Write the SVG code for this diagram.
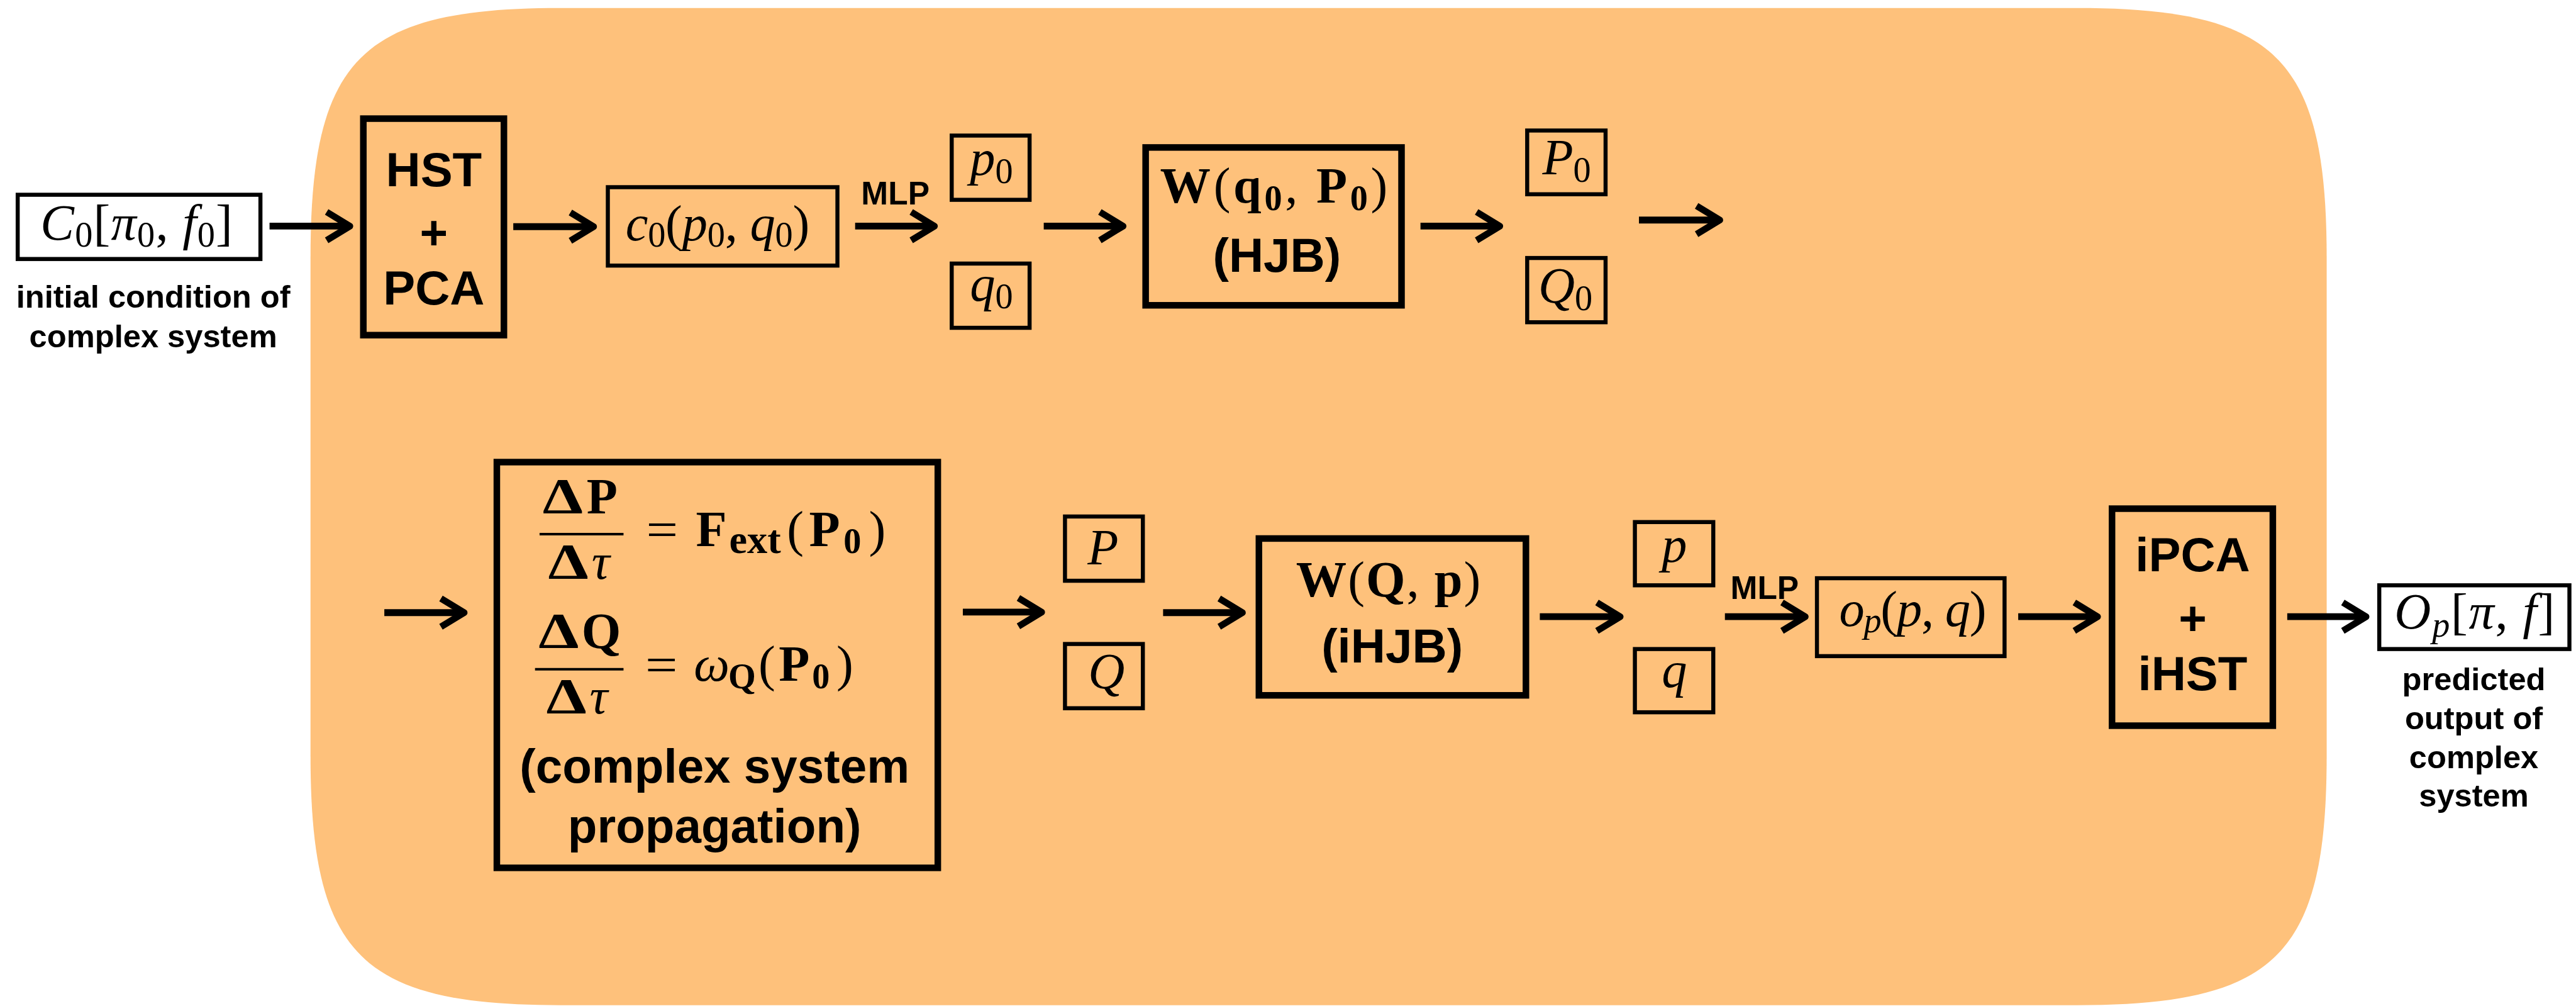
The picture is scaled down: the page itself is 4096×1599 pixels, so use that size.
<svg xmlns="http://www.w3.org/2000/svg" width="4096" height="1599" viewBox="0 0 4096 1599">
  <style>
    .box { fill: none; stroke: #000; stroke-width: 8; }
    .bbox { fill: none; stroke: #000; stroke-width: 13; }
    .sans { font-family: "Liberation Sans", Arial, Helvetica, sans-serif; font-weight: bold; fill: #000; }
    .big { font-size: 95px; }
    .small { font-size: 63px; }
    .mlp { font-size: 64px; }
    .m { font-family: "Liberation Serif", "DejaVu Serif", serif; font-size: 100px; fill: #000; }
    .i { font-style: italic; }
    .b { font-weight: bold; }
    .s { font-size: 70px; }
    .se { font-size: 80px; }
    .arrow { fill: none; stroke: #000; stroke-width: 13.5; marker-end: url(#head); }
    .bar { stroke: #000; stroke-width: 5; }
  </style>
  <defs>
    <marker id="head" markerUnits="userSpaceOnUse" orient="auto" overflow="visible" refX="0" refY="0" markerWidth="1" markerHeight="1">
      <path d="M-46,-28 L0,0 L-46,28" fill="none" stroke="#000" stroke-width="13" stroke-linejoin="round"/>
    </marker>
  </defs>

  <g transform="scale(0.80408)">
    <!-- shaded region holding the latent-space pipeline -->
    <path id="region" fill="#FEC17B" d="M614,511 C614,115 713,16 1109,16 L4106,16 C4502,16 4601,115 4601,511 L4601,1492 C4601,1888 4502,1987 4106,1987 L1109,1987 C713,1987 614,1888 614,1492 Z"/>

    <!-- input -->
    <g id="input">
      <rect class="box" x="35" y="385" width="480" height="127"/>
      <text class="m" x="80" y="474" textLength="380" lengthAdjust="spacing"><tspan class="i">C</tspan><tspan class="s" dy="13">0</tspan><tspan dy="-13">[</tspan><tspan class="i">π</tspan><tspan class="s" dy="13">0</tspan><tspan dy="-13">, </tspan><tspan class="i">f</tspan><tspan class="s" dy="13">0</tspan><tspan dy="-13">]</tspan></text>
      <text class="sans small" x="303" y="608" text-anchor="middle">initial condition of</text>
      <text class="sans small" x="303" y="686" text-anchor="middle">complex system</text>
    </g>

    <g id="hst-pca">
      <rect class="bbox" x="718.5" y="234.5" width="278" height="428"/>
      <text class="sans big" x="858" y="368" text-anchor="middle">HST</text>
      <text class="sans big" x="858" y="493" text-anchor="middle">+</text>
      <text class="sans big" x="858" y="602" text-anchor="middle">PCA</text>
    </g>

    <g id="c0">
      <rect class="box" x="1202" y="370" width="454" height="155"/>
      <text class="m" x="1237" y="475" textLength="364" lengthAdjust="spacing"><tspan class="i">c</tspan><tspan class="s" dy="12">0</tspan><tspan dy="-12">(</tspan><tspan class="i">p</tspan><tspan class="s" dy="12">0</tspan><tspan dy="-12">, </tspan><tspan class="i">q</tspan><tspan class="s" dy="12">0</tspan><tspan dy="-12">)</tspan></text>
    </g>

    <g id="mlp-1">
      <text class="sans mlp" x="1703" y="404">MLP</text>
    </g>

    <g id="p0">
      <rect class="box" x="1882" y="268" width="154" height="127"/>
      <text class="m" x="1918" y="346"><tspan class="i">p</tspan><tspan class="s" dy="16">0</tspan></text>
    </g>
    <g id="q0">
      <rect class="box" x="1882" y="521" width="154" height="127"/>
      <text class="m" x="1918" y="594"><tspan class="i">q</tspan><tspan class="s" dy="16">0</tspan></text>
    </g>

    <g id="hjb">
      <rect class="bbox" x="2265.5" y="291.5" width="506" height="312"/>
      <text class="m" x="2294" y="401" textLength="450" lengthAdjust="spacing"><tspan class="b">W</tspan>(<tspan class="b">q</tspan><tspan class="s b" dy="14">0</tspan><tspan dy="-14">, </tspan><tspan class="b">P</tspan><tspan class="s b" dy="14">0</tspan><tspan dy="-14">)</tspan></text>
      <text class="sans big" x="2525" y="537" text-anchor="middle">(HJB)</text>
    </g>

    <g id="P0">
      <rect class="box" x="3020" y="258" width="155" height="126"/>
      <text class="m" x="3050" y="345" textLength="96" lengthAdjust="spacing"><tspan class="i">P</tspan><tspan class="s" dy="15">0</tspan></text>
    </g>
    <g id="Q0">
      <rect class="box" x="3020" y="510" width="155" height="127"/>
      <text class="m" x="3042" y="598" textLength="107" lengthAdjust="spacing"><tspan class="i">Q</tspan><tspan class="s" dy="15">0</tspan></text>
    </g>

    <g id="propagation">
      <rect class="bbox" x="982.5" y="913.5" width="872" height="802"/>
      <!-- dP/dtau = F_ext(P_0) -->
      <text class="m b" x="1073" y="1015" textLength="80" lengthAdjust="spacingAndGlyphs">Δ</text>
      <text class="m b" x="1160" y="1015">P</text>
      <line class="bar" x1="1067" y1="1056" x2="1233" y2="1056"/>
      <text class="m b" x="1084" y="1144" textLength="80" lengthAdjust="spacingAndGlyphs">Δ</text>
      <text class="m i" x="1170" y="1144">τ</text>
      <text class="m" x="1278" y="1081" textLength="63" lengthAdjust="spacingAndGlyphs">=</text>
      <text class="m"><tspan class="b" x="1376" y="1079">F</tspan><tspan class="se b" x="1442" y="1093">ext</tspan><tspan x="1556" y="1079">(</tspan><tspan class="b" x="1600" y="1079">P</tspan><tspan class="s b" x="1668" y="1093">0</tspan><tspan x="1718" y="1079">)</tspan></text>
      <!-- dQ/dtau = omega_Q(P_0) -->
      <text class="m b" x="1065" y="1281" textLength="80" lengthAdjust="spacingAndGlyphs">Δ</text>
      <text class="m b" x="1150" y="1281">Q</text>
      <line class="bar" x1="1058" y1="1323" x2="1233" y2="1323"/>
      <text class="m b" x="1080" y="1410" textLength="80" lengthAdjust="spacingAndGlyphs">Δ</text>
      <text class="m i" x="1166" y="1410">τ</text>
      <text class="m" x="1276" y="1348" textLength="64" lengthAdjust="spacingAndGlyphs">=</text>
      <text class="m"><tspan class="i" x="1372" y="1346">ω</tspan><tspan class="s b" x="1440" y="1360">Q</tspan><tspan x="1500" y="1346">(</tspan><tspan class="b" x="1540" y="1346">P</tspan><tspan class="s b" x="1606" y="1360">0</tspan><tspan x="1654" y="1346">)</tspan></text>
      <text class="sans big" x="1413" y="1547" text-anchor="middle">(complex system</text>
      <text class="sans big" x="1413" y="1665" text-anchor="middle">propagation)</text>
    </g>

    <g id="P">
      <rect class="box" x="2106" y="1021" width="154" height="127"/>
      <text class="m i" x="2181" y="1115" text-anchor="middle">P</text>
    </g>
    <g id="Q">
      <rect class="box" x="2106" y="1273" width="154" height="127"/>
      <text class="m i" x="2188" y="1361" text-anchor="middle">Q</text>
    </g>

    <g id="ihjb">
      <rect class="bbox" x="2489.5" y="1064.5" width="528" height="310"/>
      <text class="m" x="2563" y="1179" textLength="365" lengthAdjust="spacing"><tspan class="b">W</tspan>(<tspan class="b">Q</tspan>, <tspan class="b">p</tspan>)</text>
      <text class="sans big" x="2753" y="1310" text-anchor="middle">(iHJB)</text>
    </g>

    <g id="p">
      <rect class="box" x="3233" y="1032" width="155" height="125"/>
      <text class="m i" x="3311" y="1110" text-anchor="middle">p</text>
    </g>
    <g id="q">
      <rect class="box" x="3233" y="1283" width="155" height="125"/>
      <text class="m i" x="3311" y="1358" text-anchor="middle">q</text>
    </g>

    <g id="mlp-2">
      <text class="sans mlp" x="3422" y="1184">MLP</text>
    </g>

    <g id="op">
      <rect class="box" x="3593" y="1143" width="371" height="154"/>
      <text class="m" x="3637" y="1237" textLength="291" lengthAdjust="spacing"><tspan class="i">o</tspan><tspan class="s i" dy="13">p</tspan><tspan dy="-13">(</tspan><tspan class="i">p</tspan>, <tspan class="i">q</tspan>)</text>
    </g>

    <g id="ipca-ihst">
      <rect class="bbox" x="4176.5" y="1005.5" width="318" height="429"/>
      <text class="sans big" x="4336" y="1129" text-anchor="middle">iPCA</text>
      <text class="sans big" x="4336" y="1255" text-anchor="middle">+</text>
      <text class="sans big" x="4336" y="1364" text-anchor="middle">iHST</text>
    </g>

    <!-- output -->
    <g id="output">
      <rect class="box" x="4705" y="1157" width="376" height="126"/>
      <text class="m" x="4735" y="1243" textLength="317" lengthAdjust="spacing"><tspan class="i">O</tspan><tspan class="s i" dy="15">p</tspan><tspan dy="-15">[</tspan><tspan class="i">π</tspan>, <tspan class="i">f</tspan>]</text>
      <text class="sans small" x="4892" y="1364" text-anchor="middle">predicted</text>
      <text class="sans small" x="4892" y="1441" text-anchor="middle">output of</text>
      <text class="sans small" x="4892" y="1518" text-anchor="middle">complex</text>
      <text class="sans small" x="4892" y="1594" text-anchor="middle">system</text>
    </g>

    <g id="connectors">
      <line class="arrow" x1="533" y1="447" x2="692" y2="447"/>
      <line class="arrow" x1="1015" y1="448" x2="1174" y2="448"/>
      <line class="arrow" x1="1691" y1="447" x2="1848" y2="447"/>
      <line class="arrow" x1="2064" y1="447" x2="2221" y2="447"/>
      <line class="arrow" x1="2809" y1="447" x2="2966" y2="447"/>
      <line class="arrow" x1="3241" y1="435" x2="3401" y2="435"/>
      <line class="arrow" x1="760" y1="1211" x2="918" y2="1211"/>
      <line class="arrow" x1="1904" y1="1210" x2="2060" y2="1210"/>
      <line class="arrow" x1="2300" y1="1211" x2="2457" y2="1211"/>
      <line class="arrow" x1="3045" y1="1219" x2="3204" y2="1219"/>
      <line class="arrow" x1="3411" y1="1219" x2="3570" y2="1219"/>
      <line class="arrow" x1="3991" y1="1219" x2="4148" y2="1219"/>
      <line class="arrow" x1="4523" y1="1219" x2="4679" y2="1219"/>
    </g>
  </g>
</svg>
